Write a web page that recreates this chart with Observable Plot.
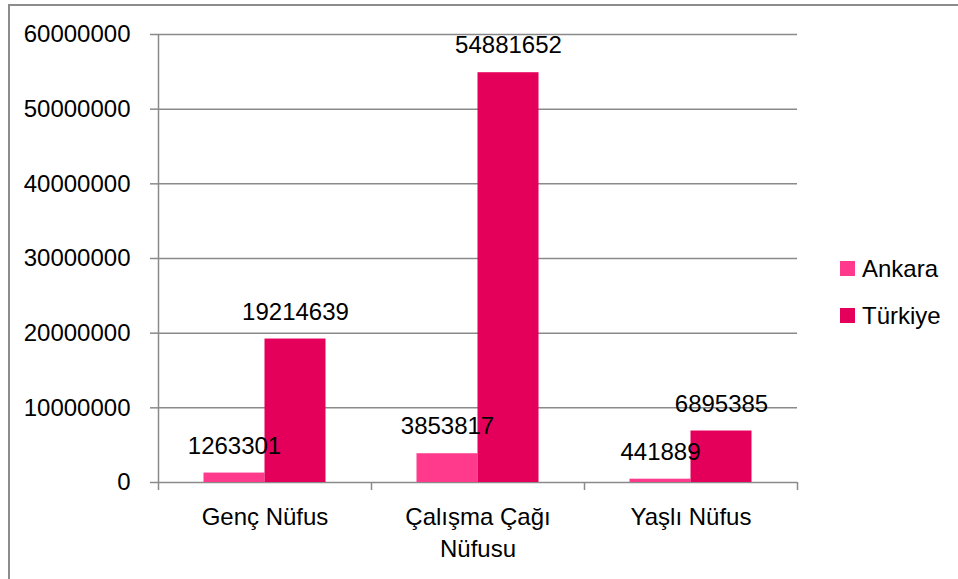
<!DOCTYPE html>
<html>
<head>
<meta charset="utf-8">
<script src="https://cdn.jsdelivr.net/npm/d3@7"></script>
<script src="https://cdn.jsdelivr.net/npm/@observablehq/plot@0.6"></script>
<style>
  html, body { margin: 0; padding: 0; background: #fff; overflow: hidden; }
  body { width: 958px; height: 579px; position: relative; font-family: "Liberation Sans", Arial, sans-serif; }
  #border { position: absolute; left: 8px; top: 4px; width: 1000px; height: 1000px; border: 2px solid #8c8c8c; box-sizing: border-box; }
  #chart { position: absolute; left: 0; top: 0; }
  #legend { position: absolute; left: 840px; top: 245px; font-size: 24px; color: #000; }
  .item { display: flex; align-items: center; height: 47px; }
  .sw { width: 15px; height: 15px; margin-right: 7px; }
</style>
</head>
<body>
<div id="border"></div>
<div id="chart"></div>
<div id="legend"></div>
<script>
const categories = ["Genç Nüfus", "Çalışma Çağı\nNüfusu", "Yaşlı Nüfus"];
const series = ["Ankara", "Türkiye"];
const ankara = [1263301, 3853817, 441889];
const turkiye = [19214639, 54881652, 6895385];
const yTicks = [0, 10000000, 20000000, 30000000, 40000000, 50000000, 60000000];
const colors = ["#FF3A8C", "#E4005A"];

const data = [];
categories.forEach((c, i) => {
  data.push({category: c, series: series[0], value: ankara[i]});
  data.push({category: c, series: series[1], value: turkiye[i]});
});
const A = data.filter(d => d.series === series[0]);
const T = data.filter(d => d.series === series[1]);

const W = 958, H = 579;
const mL = 158, mR = 161, mT = 34, mB = 97;
const band = (W - mL - mR) / categories.length;
const barW = 61;
const outer = (band - 2 * barW) / 2;
const gray = "#8a8a8a";

const plot = Plot.plot({
  width: W, height: H,
  marginLeft: mL, marginRight: mR, marginTop: mT, marginBottom: mB,
  style: {fontFamily: "'Liberation Sans', Arial, sans-serif", fontSize: "24px", color: "#000", background: "transparent"},
  x: {domain: categories, padding: 0, label: null},
  y: {domain: [0, 60000000], label: null},
  color: {domain: series, range: colors},
  marks: [
    Plot.ruleY(yTicks, {stroke: gray, strokeWidth: 1.5, strokeOpacity: 1}),
    Plot.barY(A, {x: "category", y: "value", fill: colors[0], insetLeft: outer, insetRight: band - outer - barW}),
    Plot.barY(T, {x: "category", y: "value", fill: colors[1], insetLeft: outer + barW, insetRight: outer}),
    Plot.ruleX([categories[0]], {dx: -band / 2, y1: 0, y2: 60000000, stroke: gray, strokeWidth: 1.5}),
    Plot.ruleX(categories, {dx: -band / 2, y1: 0, y2: 0, insetBottom: -8, stroke: gray, strokeWidth: 1.5}),
    Plot.ruleX([categories[categories.length - 1]], {dx: band / 2, y1: 0, y2: 0, insetBottom: -8, stroke: gray, strokeWidth: 1.5}),
    Plot.axisY({ticks: yTicks, tickFormat: d3.format("d"), tickSize: 8, tickPadding: 20, stroke: gray, strokeWidth: 1.5, fontSize: 24, fill: "#000"}),
    Plot.axisX({tickSize: 0, tickPadding: 19, fontSize: 24, lineHeight: 1.36, fill: "#000"}),
    Plot.text(A, {x: "category", y: "value", text: d => String(d.value), dx: -barW / 2, dy: -27, fontSize: 24, fill: "#000"}),
    Plot.text(T, {x: "category", y: "value", text: d => String(d.value), dx: barW / 2, dy: -27, fontSize: 24, fill: "#000"})
  ]
});
document.getElementById("chart").appendChild(plot);

const legend = document.getElementById("legend");
series.forEach((s, i) => {
  const it = document.createElement("div");
  it.className = "item";
  const sw = document.createElement("span");
  sw.className = "sw";
  sw.style.background = colors[i];
  const t = document.createElement("span");
  t.textContent = s;
  it.appendChild(sw); it.appendChild(t);
  legend.appendChild(it);
});
</script>
</body>
</html>
